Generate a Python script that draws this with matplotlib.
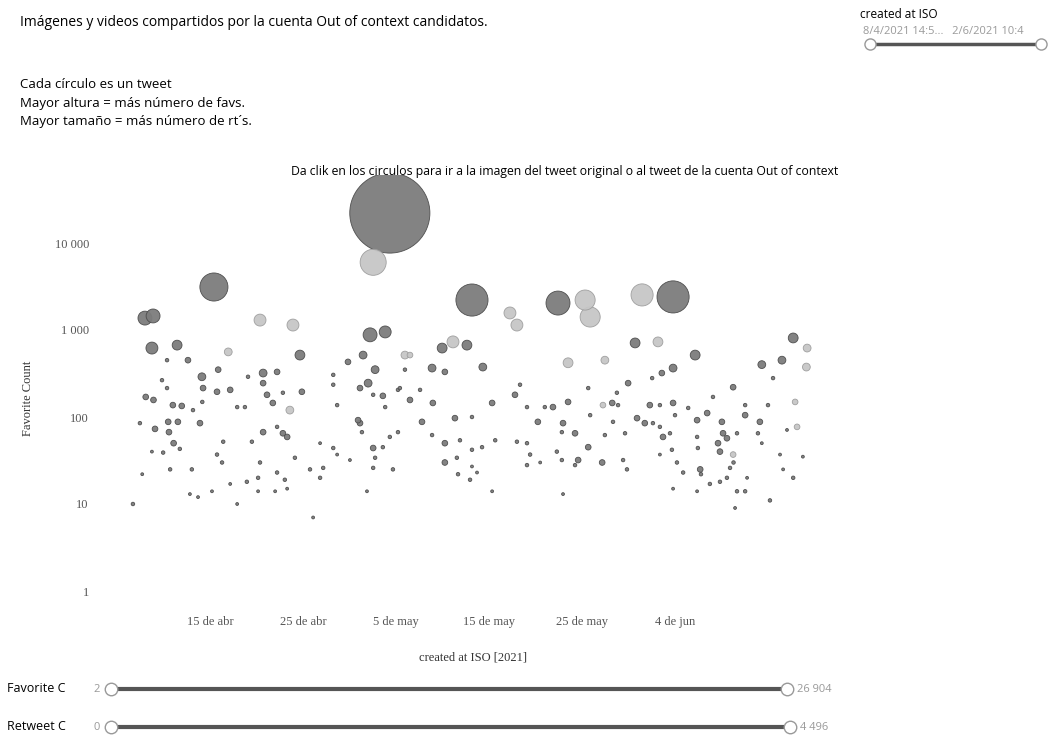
import pandas as pd
import matplotlib
matplotlib.use("Agg")
import matplotlib.pyplot as plt
from matplotlib.ticker import NullLocator

# tweets: fecha (mes-dia hora), favoritos, retweets, tipo
fechas = [
    "05-04 08", "05-02 13", "04-15 10", "05-13 04", "05-22 10", "05-25 08", "05-25 21", "05-31 11", "06-03 19", "04-08 00",
    "04-08 21", "04-20 09", "04-23 22", "05-02 05", "05-03 20", "05-17 06", "05-18 00", "04-08 18", "04-11 11", "04-16 23",
    "04-24 16", "05-09 23", "05-11 03", "05-12 15", "05-14 08", "05-23 12", "05-27 11", "05-30 17", "06-02 04", "06-06 04",
    "06-03 19", "06-16 17", "06-18 05", "06-13 08", "06-15 12", "06-18 03", "04-12 15", "04-10 09", "04-14 03", "04-15 21",
    "04-20 17", "04-22 05", "04-29 20", "05-01 11", "04-28 06", "05-02 00", "05-02 18", "05-05 23", "05-08 21", "05-10 06",
    "05-29 23", "06-02 14", "06-01 13", "06-10 06", "06-14 13", "04-06 17", "04-09 20", "04-08 02", "04-08 22", "04-11 00",
    "04-11 23", "04-14 04", "04-15 18", "04-21 03", "04-21 18", "04-17 22", "04-18 18", "04-23 14", "04-24 21", "04-28 16",
    "05-02 13", "05-03 14", "05-03 20", "05-05 05", "05-06 12", "05-07 14", "05-08 23", "04-07 11", "04-09 02", "04-10 12",
    "04-10 14", "04-11 13", "04-13 22", "04-13 04", "04-11 02", "04-11 18", "04-15 18", "04-16 07", "04-13 01", "04-10 17",
    "04-09 23", "04-08 18", "04-16 10", "04-19 12", "04-20 09", "04-20 17", "04-22 05", "04-23 07", "04-22 05", "04-20 04",
    "04-23 01", "04-23 07", "04-24 03", "04-22 20", "04-26 20", "04-25 18", "04-27 04", "04-28 16", "04-30 22", "05-01 03",
    "05-01 08", "05-02 13", "05-03 14", "05-02 18", "05-04 08", "05-05 05", "05-07 19", "05-08 21", "05-10 06", "05-11 08",
    "05-10 06", "05-11 21", "05-11 16", "05-11 13", "05-02 13", "05-04 16", "04-07 17", "04-12 20", "04-13 17", "04-15 05",
    "04-17 22", "04-17 04", "04-18 23", "04-20 04", "04-22 00", "04-26 02", "05-01 21", "04-26 20", "04-28 06", "04-30 01",
    "05-15 08", "05-17 19", "05-19 02", "05-21 00", "05-21 21", "05-23 12", "05-27 06", "05-28 06", "05-28 21", "05-28 18",
    "06-01 07", "06-02 09", "06-03 19", "06-05 10", "06-08 02", "06-16 22", "06-14 00", "06-11 13", "05-13 04", "05-20 06",
    "05-22 23", "05-25 21", "05-28 08", "05-30 22", "05-31 18", "06-01 15", "06-02 09", "06-04 00", "06-06 09", "06-07 11",
    "06-09 01", "06-11 13", "06-13 03", "05-22 20", "05-24 06", "05-27 11", "05-29 15", "06-02 17", "06-03 11", "06-06 09",
    "06-09 04", "06-09 14", "06-08 15", "06-10 16", "06-12 22", "05-15 16", "05-14 06", "05-13 04", "05-18 00", "05-19 02",
    "05-25 16", "05-22 07", "05-19 10", "05-24 14", "05-22 20", "05-24 06", "05-27 04", "05-29 10", "05-29 20", "06-03 16",
    "06-06 11", "06-04 05", "06-04 21", "06-06 17", "06-06 19", "06-08 20", "06-10 06", "06-10 07", "06-09 22", "06-08 20",
    "06-09 14", "06-11 13", "06-10 16", "06-11 18", "06-14 05", "06-10 11", "06-13 08", "06-15 07", "06-15 15", "06-16 17",
    "06-17 18", "06-17 03", "06-16 01", "05-13 04", "05-12 23", "05-13 17", "05-15 08", "05-19 02", "05-20 12", "05-22 23",
    "06-03 19", "06-06 09", "06-02 09", "06-07 18", "05-18 08", "05-25 16", "04-10 09", "04-14 06", "04-17 04", "04-19 02",
    "04-20 17", "04-22 20", "04-28 06", "05-01 03", "05-05 23", "05-06 12", "05-05 10",
]
favs = [
    22100, 6000, 3120, 2210, 2040, 2210, 1410, 2530, 2400, 1370,
    1450, 1300, 1140, 880, 950, 1570, 1140, 620, 670, 560,
    515, 620, 730, 670, 375, 420, 450, 710, 730, 515,
    365, 810, 620, 400, 450, 375, 450, 450, 290, 350,
    320, 330, 430, 515, 305, 245, 350, 515, 365, 330,
    245, 320, 280, 220, 280, 10, 265, 170, 157, 137,
    134, 149, 195, 180, 145, 130, 130, 120, 195, 137,
    180, 175, 130, 205, 157, 205, 145, 85, 73, 88,
    67, 88, 85, 120, 50, 43, 37, 30, 25, 25,
    39, 40, 52, 52, 30, 67, 77, 59, 23, 20,
    19, 15, 34, 65, 20, 25, 26, 37, 92, 85,
    67, 44, 45, 34, 59, 67, 88, 62, 50, 97,
    30, 54, 22, 34, 26, 25, 22, 13, 12, 14,
    10, 17, 18, 14, 14, 7, 14, 50, 44, 32,
    145, 180, 130, 130, 130, 149, 137, 145, 137, 190,
    137, 137, 145, 127, 170, 149, 137, 137, 100, 88,
    85, 105, 88, 97, 85, 85, 77, 105, 92, 111,
    88, 105, 88, 67, 65, 62, 65, 59, 65, 59,
    65, 57, 50, 65, 65, 54, 45, 42, 52, 50,
    45, 40, 37, 32, 32, 28, 30, 32, 25, 42,
    44, 30, 23, 25, 22, 40, 37, 30, 26, 18,
    20, 14, 14, 20, 11, 9, 50, 37, 25, 20,
    35, 77, 71, 27, 19, 23, 14, 28, 30, 13,
    15, 14, 37, 17, 235, 215, 215, 215, 205, 290,
    245, 190, 235, 215, 350, 515, 215,
]
rts = [
    4496, 473, 550, 720, 400, 280, 280, 340, 720, 133,
    133, 97, 97, 133, 97, 97, 97, 97, 65, 40,
    65, 65, 97, 65, 40, 65, 40, 65, 65, 65,
    40, 65, 40, 40, 40, 40, 20, 6, 40, 20,
    40, 20, 20, 40, 6, 40, 40, 40, 40, 20,
    20, 20, 6, 20, 6, 6, 6, 20, 20, 20,
    20, 6, 20, 20, 20, 6, 6, 40, 20, 6,
    6, 20, 6, 6, 20, 6, 20, 6, 20, 20,
    20, 20, 20, 6, 20, 6, 6, 6, 6, 6,
    6, 3, 6, 6, 6, 20, 6, 20, 6, 6,
    6, 3, 6, 20, 6, 6, 6, 3, 20, 20,
    6, 20, 6, 6, 6, 6, 20, 6, 20, 20,
    20, 6, 6, 6, 6, 6, 3, 3, 3, 3,
    3, 3, 6, 3, 3, 3, 3, 3, 6, 3,
    20, 20, 6, 6, 20, 20, 20, 20, 6, 6,
    20, 6, 20, 6, 6, 20, 6, 6, 6, 20,
    20, 6, 6, 20, 20, 6, 6, 6, 20, 20,
    20, 20, 20, 6, 20, 6, 6, 20, 6, 6,
    20, 20, 20, 6, 6, 6, 6, 6, 6, 6,
    20, 6, 6, 20, 6, 6, 20, 6, 6, 6,
    6, 6, 6, 20, 6, 20, 20, 6, 6, 6,
    6, 6, 6, 3, 6, 3, 3, 3, 3, 6,
    3, 20, 3, 3, 6, 3, 3, 6, 3, 3,
    3, 3, 3, 6, 6, 6, 6, 20, 20, 6,
    20, 6, 6, 20, 6, 20, 6,
]
tipo = (
    ["img", "vid", "img", "img", "img", "vid", "vid", "vid", "img", "img"]
    + ["img", "vid", "vid", "img", "img", "vid", "vid", "img", "img", "vid"]
    + ["img", "img", "vid", "img", "img", "vid", "vid", "img", "vid", "img"]
    + ["img", "img", "vid", "img", "img", "vid", "img", "img", "img", "img"]
    + ["img", "img", "img", "img", "img", "img", "img", "vid", "img", "img"]
    + ["img"] * 10
    + ["img", "img", "img", "img", "img", "img", "img", "vid", "img", "img"]
    + ["img"] * 70
    + ["img", "img", "img", "img", "img", "img", "vid", "img", "img", "img"]
    + ["img", "img", "img", "img", "img", "vid", "img", "img", "img", "img"]
    + ["img"] * 40
    + ["img", "img", "img", "img", "img", "img", "vid", "img", "img", "img"]
    + ["img"] * 10
    + ["img", "vid", "img", "img", "img", "img", "img", "img", "img", "img"]
    + ["img"] * 10
    + ["img", "img", "img", "img", "img", "vid", "img"]
)

ticks_fecha = ["2021-04-15", "2021-04-25", "2021-05-05", "2021-05-15", "2021-05-25", "2021-06-04"]
ticks_texto = ["15 de abr", "25 de abr", "5 de may", "15 de may", "25 de may", "4 de jun"]
ticks_fav = [1, 10, 100, 1000, 10000]
ticks_fav_texto = ["1", "10", "100", "1 000", "10 000"]

df = pd.DataFrame({"fecha": pd.to_datetime(["2021-" + f for f in fechas], format="%Y-%m-%d %H"),
                   "fav": favs, "rt": rts, "tipo": tipo})
df = df.sort_values("rt", ascending=False)

colores = {"img": "#7c7c7c", "vid": "#c6c6c6"}
bordes = {"img": "#4a4a4a", "vid": "#9c9c9c"}

W, H = 1049, 739
fig = plt.figure(figsize=(W / 100, H / 100), dpi=100)
sans = ["Open Sans", "DejaVu Sans"]
serif = ["Liberation Serif", "DejaVu Serif"]

ax = fig.add_axes([100 / W, 1 - 605 / H, 730 / W, 430 / H])
ax.scatter(df["fecha"], df["fav"], s=2 + df["rt"] * 0.74,
           c=df["tipo"].map(colores), edgecolors=df["tipo"].map(bordes),
           linewidths=0.6, alpha=0.95, zorder=3)
ax.set_yscale("log")
ax.set_ylim(10 ** (-14 / 87), 10 ** (416 / 87))
ax.set_xlim(pd.Timestamp("2021-04-03 04:00"), pd.Timestamp("2021-06-20 16:00"))
ax.set_yticks(ticks_fav)
ax.set_yticklabels(ticks_fav_texto)
ax.yaxis.set_minor_locator(NullLocator())
ax.set_xticks(pd.to_datetime(ticks_fecha))
ax.set_xticklabels(ticks_texto)
ax.tick_params(length=0, labelsize=9, labelcolor="#555555", pad=8)
for lab in ax.get_xticklabels() + ax.get_yticklabels():
    lab.set_family(serif)
for s in ax.spines.values():
    s.set_visible(False)
ax.set_facecolor("none")
ax.set_ylabel("Favorite Count", family=serif, fontsize=9, color="#333333")
ax.yaxis.set_label_coords(-66 / 730, 0.48)
ax.set_xlabel("created at ISO [2021]", family=serif, fontsize=9, color="#333333")
ax.xaxis.set_label_coords(373 / 730, -46 / 430)

# capa de textos y filtros (coordenadas en pixeles)
ov = fig.add_axes([0, 0, 1, 1], zorder=-1)
ov.set_xlim(0, W)
ov.set_ylim(H, 0)
ov.axis("off")

ov.text(20, 22, "Imágenes y videos compartidos por la cuenta Out of context candidatos.",
        family=sans, fontsize=10, va="center")
for y, t in [(85, "Cada círculo es un tweet"),
             (103, "Mayor altura = más número de favs."),
             (121, "Mayor tamaño = más número de rt´s.")]:
    ov.text(20, y, t, family=sans, fontsize=9.5, va="center")
ov.text(565, 172, "Da clik en los circulos para ir a la imagen del tweet original o al tweet de la cuenta Out of context",
        family=sans, fontsize=8.8, ha="center", va="center")

ov.text(860, 14, "created at ISO", family=sans, fontsize=8.5, va="center")
ov.text(863, 31, "8/4/2021 14:5...   2/6/2021 10:4", family=sans, fontsize=8,
        color="#9a9a9a", va="center")
ov.plot([872, 1040], [44, 44], color="#555555", lw=2.5, solid_capstyle="butt")
ov.plot([870, 1041], [44, 44], "o", ms=8, mfc="white", mec="#999999", mew=1)

for y, nombre, vmin, vmax, x1 in [(689, "Favorite C", "2", "26 904", 787),
                                   (727, "Retweet C", "0", "4 496", 790)]:
    ov.text(7, y, nombre, family=sans, fontsize=9, va="center")
    ov.text(100, y, vmin, family=sans, fontsize=8, color="#999999", va="center", ha="right")
    ov.plot([112, x1], [y, y], color="#555555", lw=3, solid_capstyle="butt")
    ov.plot([111, x1], [y, y], "o", ms=9, mfc="white", mec="#999999", mew=1)
    ov.text(x1 + 10, y + 1, vmax, family=sans, fontsize=8, color="#999999", va="center")

fig.savefig("out.png", dpi=100, facecolor="white")
